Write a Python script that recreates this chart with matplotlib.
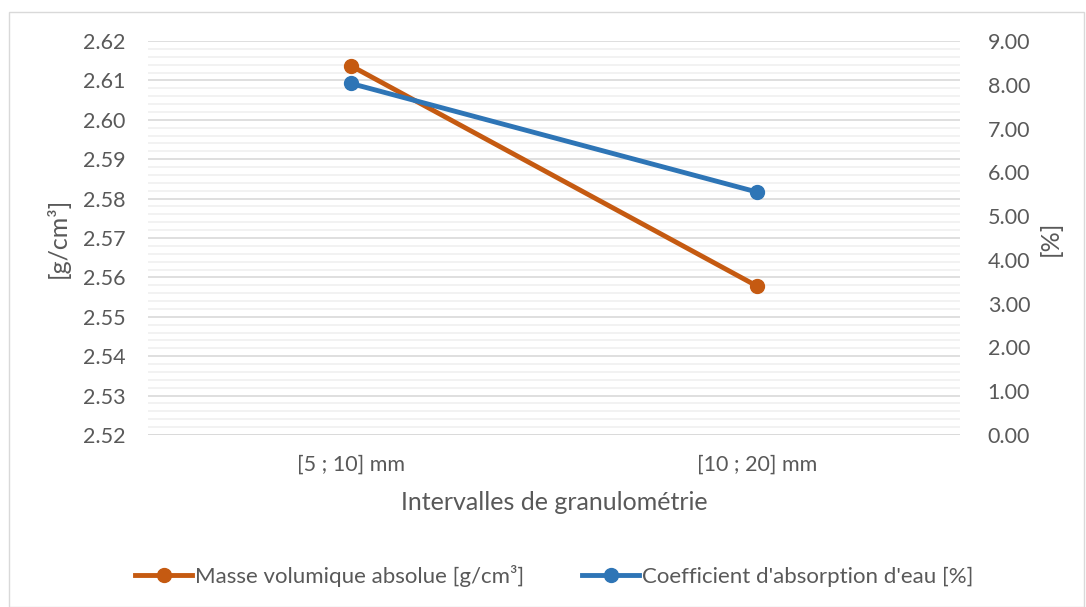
import matplotlib.pyplot as plt
from matplotlib.patches import Rectangle
from matplotlib.ticker import MultipleLocator, FormatStrFormatter
from matplotlib.lines import Line2D

plt.rcParams['font.family'] = ['Lato', 'DejaVu Sans']

categories = ['[5 ; 10] mm', '[10 ; 20] mm']
masse_volumique = [2.6137, 2.5578]   # g/cm3, left axis
absorption = [8.03, 5.55]            # %, right axis

ORANGE = '#C55A11'
BLUE = '#2E75B6'
TXT = '#595959'

fig = plt.figure(figsize=(10.86, 6.07), dpi=100)
fig.patches.append(Rectangle((0.008, 0.0), 0.99, 0.98, transform=fig.transFigure,
                             fill=False, edgecolor='#d9d9d9', linewidth=1))

ax = fig.add_axes([148 / 1086, 1 - 435 / 607, 812 / 1086, 394 / 607])
ax2 = ax.twinx()
x = range(len(categories))

ax.set_xlim(-0.5, 1.5)
ax.set_ylim(2.52, 2.62)
ax2.set_ylim(0, 9)

ax.yaxis.set_major_locator(MultipleLocator(0.01))
ax.yaxis.set_minor_locator(MultipleLocator(0.002))
ax.yaxis.set_major_formatter(FormatStrFormatter('%.2f'))
ax2.yaxis.set_major_locator(MultipleLocator(1))
ax2.yaxis.set_major_formatter(FormatStrFormatter('%.2f'))

ax.grid(axis='y', which='major', color='#d9d9d9', linewidth=1.2)
ax.grid(axis='y', which='minor', color='#f0f0f0', linewidth=1.2)
ax.set_axisbelow(True)

for a in (ax, ax2):
    for s in a.spines.values():
        s.set_visible(False)
    a.tick_params(length=0, which='both', labelsize=15.5, colors=TXT)
ax.tick_params(axis='y', pad=16)
ax2.tick_params(axis='y', pad=20)

ax.set_xticks(list(x))
ax.set_xticklabels(categories)
ax.tick_params(axis='x', pad=14)
ax.axhline(2.52, color='#d9d9d9', linewidth=1.2)

ax.plot(x, masse_volumique, color=ORANGE, linewidth=3.5, marker='o', markersize=10,
        solid_capstyle='round', zorder=3)
ax2.plot(x, absorption, color=BLUE, linewidth=3.5, marker='o', markersize=10,
         solid_capstyle='round', zorder=3)

ax.set_xlabel('Intervalles de granulométrie', fontsize=18, color=TXT, labelpad=12)
ax.set_ylabel('[g/cm³]', fontsize=18, color=TXT, labelpad=10)
ax2.set_ylabel('[%]', fontsize=18, color=TXT, labelpad=6)

handles = [Line2D([], [], color=ORANGE, linewidth=3.5, marker='o', markersize=10),
           Line2D([], [], color=BLUE, linewidth=3.5, marker='o', markersize=10)]
fig.legend(handles, ['Masse volumique absolue [g/cm³]', "Coefficient d'absorption d'eau [%]"],
           loc='center', bbox_to_anchor=(0.51, 1 - 576 / 607), ncol=2, frameon=False,
           fontsize=16, labelcolor=TXT, handlelength=2.6, handletextpad=0.1, columnspacing=2.6)

fig.savefig('out.png', dpi=100)
